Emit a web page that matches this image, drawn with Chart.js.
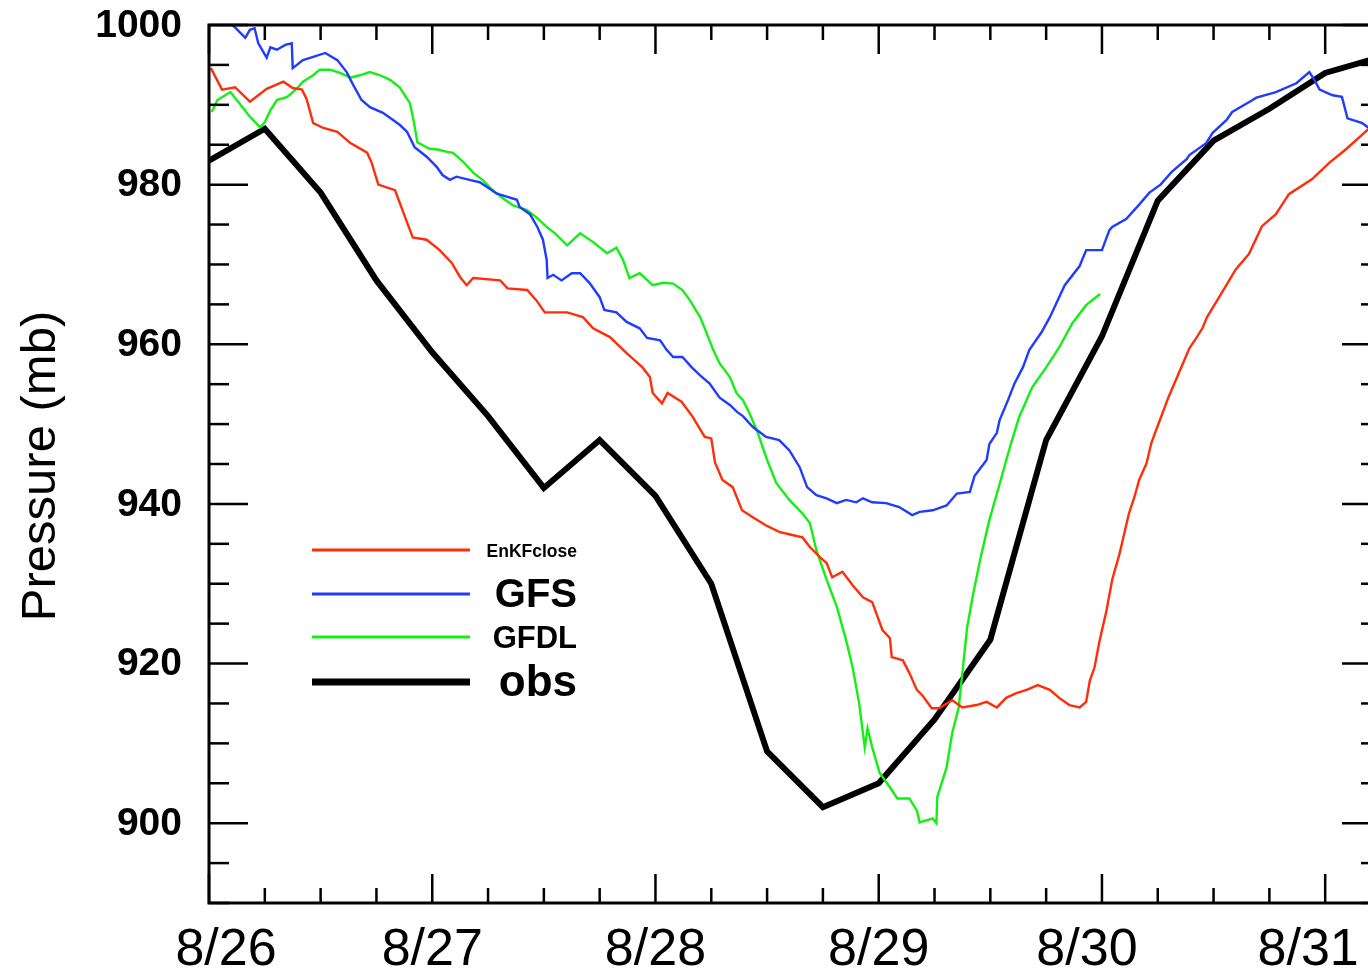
<!DOCTYPE html>
<html>
<head>
<meta charset="utf-8">
<script src="https://cdn.jsdelivr.net/npm/chart.js@4.4.1/dist/chart.umd.min.js"></script>
<style>
  html, body { margin: 0; padding: 0; background: #fff; overflow: hidden; }
  #wrap { width: 1400px; height: 971px; }
</style>
</head>
<body>
<div id="wrap"><canvas id="c" width="1400" height="971"></canvas></div>
<script>
// ---- Data (hours since 8/26 00Z, pressure in mb) ----
const seriesNames = ['EnKFclose', 'GFS', 'GFDL', 'obs'];
const xTickHours = [0, 24, 48, 72, 96, 120];
const xTickLabels = ['8/26', '8/27', '8/28', '8/29', '8/30', '8/31'];
const yTickValues = [900, 920, 940, 960, 980, 1000];

const enkfHours = [0.2,1.4,2.8,4.4,6.2,8.0,9.0,10.0,10.5,11.2,12.3,13.8,15.2,17.0,17.5,18.2,20.0,20.8,21.9,23.4,24.8,26.1,27.0,27.7,28.4,31.3,32.1,34.2,35.2,36.1,38.5,40.2,41.3,43.1,44.9,46.6,47.4,47.7,48.7,49.3,50.8,52.0,53.3,54.0,54.4,55.2,56.3,57.3,58.5,59.9,61.3,62.7,63.8,64.6,65.7,66.4,67.0,68.1,69.2,70.3,71.3,71.8,72.4,73.2,73.4,74.6,75.3,76.1,76.7,77.7,78.5,79.9,81.0,82.5,83.6,84.7,85.7,86.8,87.9,89.1,90.4,91.4,92.5,93.6,94.3,94.7,95.2,95.7,96.5,97.1,97.9,98.4,98.9,99.5,100.0,100.8,101.3,102.1,103.2,104.3,105.4,106.2,106.8,107.3,108.6,110.4,111.8,113.2,114.7,116.1,118.6,120.4,122.3,124.4,124.8];
const enkfValues = [994.6,991.9,992.2,990.4,992.0,992.9,992.1,991.9,990.7,987.7,987.1,986.6,985.2,984.0,982.7,980.0,979.3,976.8,973.4,973.1,971.8,970.2,968.4,967.4,968.3,968.0,967.0,966.8,965.5,964.0,964.0,963.4,962.0,960.9,958.9,957.1,955.9,953.9,952.6,953.9,952.8,950.9,948.4,948.2,945.2,943.0,942.1,939.2,938.3,937.3,936.5,936.1,935.8,934.6,933.3,932.6,930.8,931.5,929.8,928.3,927.7,926.1,924.2,923.2,920.8,920.4,918.8,916.7,916.0,914.4,914.4,915.4,914.5,914.8,915.2,914.5,915.7,916.3,916.7,917.3,916.7,915.7,914.8,914.5,915.2,917.9,919.5,922.6,926.7,930.5,933.8,936.3,938.8,940.9,943.0,945.1,947.6,950.1,953.5,956.5,959.5,960.9,962.0,963.4,965.9,969.4,971.3,974.8,976.3,978.8,980.7,982.7,984.5,986.7,987.1];

const gfsHours = [0.0,1.5,2.8,3.3,3.9,4.4,4.9,5.3,6.2,6.6,7.3,8.2,8.9,9.0,10.1,11.2,12.5,13.8,14.8,15.5,16.4,17.3,18.7,20.5,21.3,22.1,23.4,24.5,25.1,25.9,26.6,28.0,29.1,29.9,30.9,32.0,33.1,33.4,34.5,35.3,35.9,36.3,36.4,37.0,37.9,39.0,39.9,40.9,42.0,42.5,43.8,44.9,46.3,47.1,48.5,49.2,49.9,50.9,51.9,52.8,53.8,54.9,56.0,56.8,57.4,58.5,59.9,61.3,62.4,63.5,64.3,65.3,66.4,67.5,68.5,69.6,70.3,71.3,72.8,74.2,75.6,76.4,77.8,79.3,80.4,81.8,82.3,83.6,83.9,84.7,85.0,85.9,86.6,87.5,88.2,89.5,90.4,92.0,93.6,94.3,96.0,96.8,97.1,98.6,100.0,101.1,102.3,103.5,105.1,105.4,107.2,107.9,109.4,110.0,112.2,112.6,114.7,116.9,118.3,118.8,119.4,120.8,121.8,122.4,124.0,124.8];
const gfsValues = [1002.0,1001.0,999.7,999.1,998.4,999.4,999.6,997.7,995.9,997.2,996.9,997.5,997.7,994.6,995.6,996.0,996.5,995.6,994.1,992.5,990.6,989.7,989.0,987.5,986.6,984.7,983.5,982.2,981.2,980.6,981.0,980.6,980.3,979.7,978.9,978.5,978.1,977.2,976.3,974.7,973.1,970.6,968.3,968.7,968.0,968.9,968.9,967.7,965.9,964.3,964.0,962.8,962.0,960.8,960.5,959.3,958.4,958.4,957.1,956.1,955.1,953.3,952.4,951.5,951.0,949.6,948.4,948.0,946.7,944.6,942.1,941.1,940.7,940.1,940.5,940.2,940.7,940.2,940.1,939.6,938.6,939.0,939.2,939.8,941.3,941.5,943.5,945.5,947.5,948.9,950.5,953.0,955.1,957.1,959.3,961.5,963.4,967.4,969.8,971.8,971.8,974.3,974.7,975.7,977.5,979.0,980.0,981.6,983.2,983.7,985.2,986.5,988.1,989.1,990.6,990.9,991.6,992.7,994.1,993.2,991.9,991.2,991.0,988.3,987.7,987.0];

const gfdlHours = [0.3,0.9,2.3,3.6,4.4,5.5,6.0,6.6,7.3,8.4,9.5,10.1,11.2,11.9,13.0,14.1,15.2,16.2,17.3,18.4,19.5,20.5,21.6,22.0,22.4,23.7,24.6,25.6,26.2,27.3,28.4,29.4,30.5,31.6,32.7,34.2,35.2,36.3,37.2,38.5,39.9,41.3,42.8,43.8,44.5,45.2,46.3,47.7,48.8,49.9,50.9,51.7,52.8,53.5,54.2,54.9,56.0,56.7,57.4,58.1,59.0,60.0,61.0,62.4,63.8,64.6,65.3,66.4,67.5,68.5,69.2,69.9,70.5,70.8,71.3,72.1,73.2,74.0,75.3,76.1,76.4,77.8,78.2,78.3,79.3,79.9,80.6,81.1,81.5,82.2,83.0,83.9,85.0,86.2,87.1,88.5,90.0,91.4,92.8,94.3,95.8];
const gfdlValues = [989.1,990.6,991.6,989.7,988.5,987.2,987.8,989.3,990.6,991.0,992.1,992.9,993.7,994.4,994.4,994.0,993.4,993.7,994.1,993.7,993.1,992.2,990.2,988.0,985.3,984.5,984.4,984.1,984.0,982.9,981.5,980.6,979.3,978.3,977.4,976.8,975.9,974.7,973.9,972.4,973.9,972.8,971.4,972.1,970.6,968.3,968.9,967.4,967.7,967.6,966.8,965.5,963.4,961.4,959.3,957.6,955.9,953.9,953.0,951.4,948.9,945.5,942.6,940.5,938.8,937.6,934.2,930.5,927.1,922.9,919.5,915.0,909.5,911.9,909.5,906.3,904.5,903.1,903.1,901.6,900.1,900.6,900.0,903.3,907.0,911.3,914.5,920.0,924.5,929.0,933.5,938.0,942.5,947.5,950.9,954.6,957.1,959.6,962.6,964.9,966.3];

const obsHours = [0,6,12,18,24,30,36,42,48,54,60,66,72,78,84,90,96,102,108,114,120,126];
const obsValues = [983,987,979,968,959,951,942,948,941,930,909,902,905,913,923,948,961,978,985.5,989.5,994,996];

// ---- Build datasets from arrays ----
const toPts = (hs, vs) => hs.map((h, i) => ({ x: h, y: vs[i] }));
const colors = ['#ff2e0a', '#1f3cff', '#14f014', '#000000'];
const widths = [2.4, 2.4, 2.4, 6];
const allHours = [enkfHours, gfsHours, gfdlHours, obsHours];
const allValues = [enkfValues, gfsValues, gfdlValues, obsValues];

const datasets = seriesNames.map((name, i) => ({
  label: name,
  data: toPts(allHours[i], allValues[i]),
  borderColor: colors[i],
  backgroundColor: colors[i],
  borderWidth: widths[i],
  pointRadius: 0,
  tension: 0,
  fill: false,
  clip: 0,
  borderJoinStyle: 'miter'
}));

const FONT = '"Liberation Sans", Arial, Helvetica, sans-serif';

const framePlugin = {
  id: 'frame',
  afterDatasetsDraw(chart) {
    const { ctx, chartArea: a, scales: { x, y } } = chart;
    ctx.save();
    ctx.strokeStyle = '#000';
    ctx.fillStyle = '#000';
    const seg = (x1, y1, x2, y2) => { ctx.beginPath(); ctx.moveTo(x1, y1); ctx.lineTo(x2, y2); ctx.stroke(); };

    // ticks (inward, all four sides)
    ctx.lineWidth = 2.5;
    for (let h = x.min; h <= x.max + 0.001; h += 6) {
      const px = x.getPixelForValue(h);
      const major = xTickHours.includes(h);
      const L = major ? 29 : 15;
      seg(px, a.bottom, px, a.bottom - L);
      seg(px, a.top, px, a.top + L);
    }
    for (let v = y.min; v <= y.max + 0.001; v += 5) {
      const py = y.getPixelForValue(v);
      const major = yTickValues.includes(v);
      const L = major ? 39 : 20;
      seg(a.left, py, a.left + L, py);
      seg(a.right, py, a.right - L, py);
    }
    // frame
    ctx.lineWidth = 3;
    ctx.strokeRect(a.left, a.top, a.right - a.left, a.bottom - a.top);

    // x labels
    const xShift = { '8/26': 17, '8/30': -15, '8/31': -17 };
    ctx.font = '52px ' + FONT;
    ctx.textAlign = 'center';
    ctx.textBaseline = 'alphabetic';
    xTickHours.forEach((h, i) => {
      const lab = xTickLabels[i];
      ctx.fillText(lab, x.getPixelForValue(h) + (xShift[lab] || 0), 965);
    });
    // y labels
    ctx.font = 'bold 39px ' + FONT;
    ctx.textAlign = 'right';
    ctx.textBaseline = 'middle';
    yTickValues.forEach(v => {
      ctx.fillText(String(v), 182, y.getPixelForValue(v) + 1);
    });
    // y title
    ctx.save();
    ctx.translate(41, 466);
    ctx.rotate(-Math.PI / 2);
    ctx.font = '49px ' + FONT;
    ctx.textAlign = 'center';
    ctx.textBaseline = 'middle';
    ctx.fillText('Pressure (mb)', 0, 0);
    ctx.restore();

    // legend
    const legY = [550, 594, 637, 682];
    const legFonts = ['bold 17.5px ', 'bold 40px ', 'bold 31px ', 'bold 44px '];
    const legW = [3, 3, 3, 7];
    chart.data.datasets.forEach((ds, i) => {
      ctx.strokeStyle = ds.borderColor;
      ctx.lineWidth = legW[i];
      ctx.lineCap = 'butt';
      seg(312, legY[i], 470, legY[i]);
      ctx.fillStyle = '#000';
      ctx.font = legFonts[i] + FONT;
      ctx.textAlign = 'right';
      ctx.textBaseline = 'middle';
      ctx.fillText(ds.label, 577, legY[i] + 2);
    });
    ctx.restore();
  }
};

new Chart(document.getElementById('c'), {
  type: 'line',
  data: { datasets },
  options: {
    responsive: false,
    animation: false,
    devicePixelRatio: 1,
    layout: { padding: { left: 0, top: 25, right: 19, bottom: 0 } },
    plugins: { legend: { display: false }, tooltip: { enabled: false } },
    scales: {
      x: {
        type: 'linear', min: 0, max: 126,
        grid: { display: false }, border: { display: false },
        ticks: { display: false },
        afterFit(s) { s.height = 68; }
      },
      y: {
        type: 'linear', min: 890, max: 1000,
        grid: { display: false }, border: { display: false },
        ticks: { display: false },
        afterFit(s) { s.width = 209; }
      }
    }
  },
  plugins: [framePlugin]
});
</script>
</body>
</html>
